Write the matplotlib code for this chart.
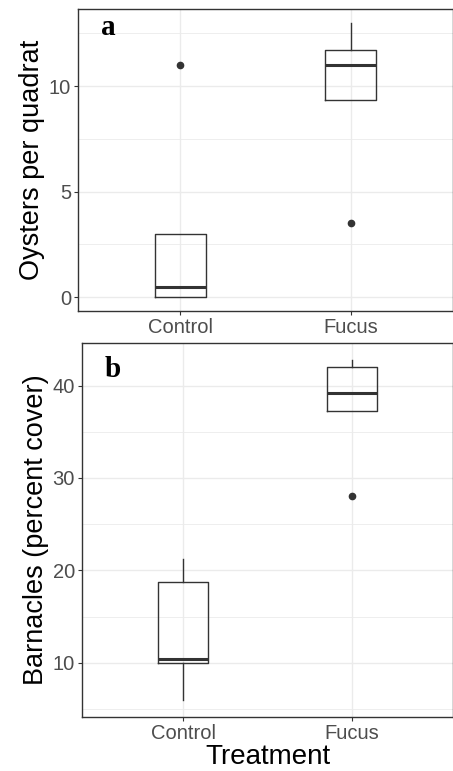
import matplotlib
matplotlib.use("Agg")
import matplotlib.pyplot as plt
from matplotlib.ticker import MultipleLocator

plt.rcParams['font.family'] = ['Liberation Sans', 'DejaVu Sans']

groups = ['Control', 'Fucus']

# oysters per quadrat: whisker low, Q1, median, Q3, whisker high, outliers
oys_lo = [0.0, 9.33]
oys_q1 = [0.0, 9.33]
oys_med = [0.5, 11.0]
oys_q3 = [3.0, 11.7]
oys_hi = [3.0, 13.0]
oys_out = [[11.0], [3.5]]

# barnacles (percent cover)
bar_lo = [6.0, 37.2]
bar_q1 = [10.0, 37.2]
bar_med = [10.4, 39.2]
bar_q3 = [18.8, 42.0]
bar_hi = [21.2, 42.8]
bar_out = [[], [28.0]]


def stats(lo, q1, med, q3, hi, out):
    return [dict(whislo=lo[i], q1=q1[i], med=med[i], q3=q3[i], whishi=hi[i],
                 fliers=out[i], label=groups[i]) for i in range(len(groups))]


def panel(ax, st, ylab, letter, ylim, major, minor, ly):
    ax.bxp(st, positions=[1, 2], widths=0.3, showcaps=False,
           boxprops=dict(color='#333333', linewidth=1.0),
           whiskerprops=dict(color='#333333', linewidth=1.0),
           medianprops=dict(color='#333333', linewidth=2.2),
           flierprops=dict(marker='o', markersize=4.5, markerfacecolor='#333333',
                           markeredgecolor='#333333'))
    ax.set_xlim(0.4, 2.6)
    ax.set_ylim(*ylim)
    ax.yaxis.set_major_locator(MultipleLocator(major))
    ax.yaxis.set_minor_locator(MultipleLocator(minor))
    ax.grid(True, which='major', color='#EBEBEB', linewidth=1.0)
    ax.grid(True, which='minor', axis='y', color='#EBEBEB', linewidth=0.6)
    ax.set_axisbelow(True)
    ax.tick_params(which='minor', length=0)
    ax.tick_params(which='major', length=3, color='#333333', labelsize=14.5,
                   labelcolor='#4D4D4D', pad=2)
    for s in ax.spines.values():
        s.set_color('#333333')
        s.set_linewidth(1.0)
    ax.set_ylabel(ylab, fontsize=19.5, labelpad=3)
    ax.text(0.06, ly, letter, transform=ax.transAxes, ha='left', va='top',
            fontsize=21, fontweight='bold', family='Liberation Serif')


fig = plt.figure(figsize=(4.53, 7.71), dpi=100)
ax1 = fig.add_axes([78 / 453, 1 - 311 / 771, 375 / 453, 302 / 771])
ax2 = fig.add_axes([82 / 453, 1 - 717 / 771, 371 / 453, 374 / 771])

panel(ax1, stats(oys_lo, oys_q1, oys_med, oys_q3, oys_hi, oys_out),
      'Oysters per quadrat', 'a', (-0.65, 13.65), 5, 2.5, 0.985)
panel(ax2, stats(bar_lo, bar_q1, bar_med, bar_q3, bar_hi, bar_out),
      'Barnacles (percent cover)', 'b', (4.15, 44.6), 10, 5, 0.965)
ax2.set_xlabel('Treatment', fontsize=20, labelpad=1)

fig.savefig('out.png', dpi=100)
